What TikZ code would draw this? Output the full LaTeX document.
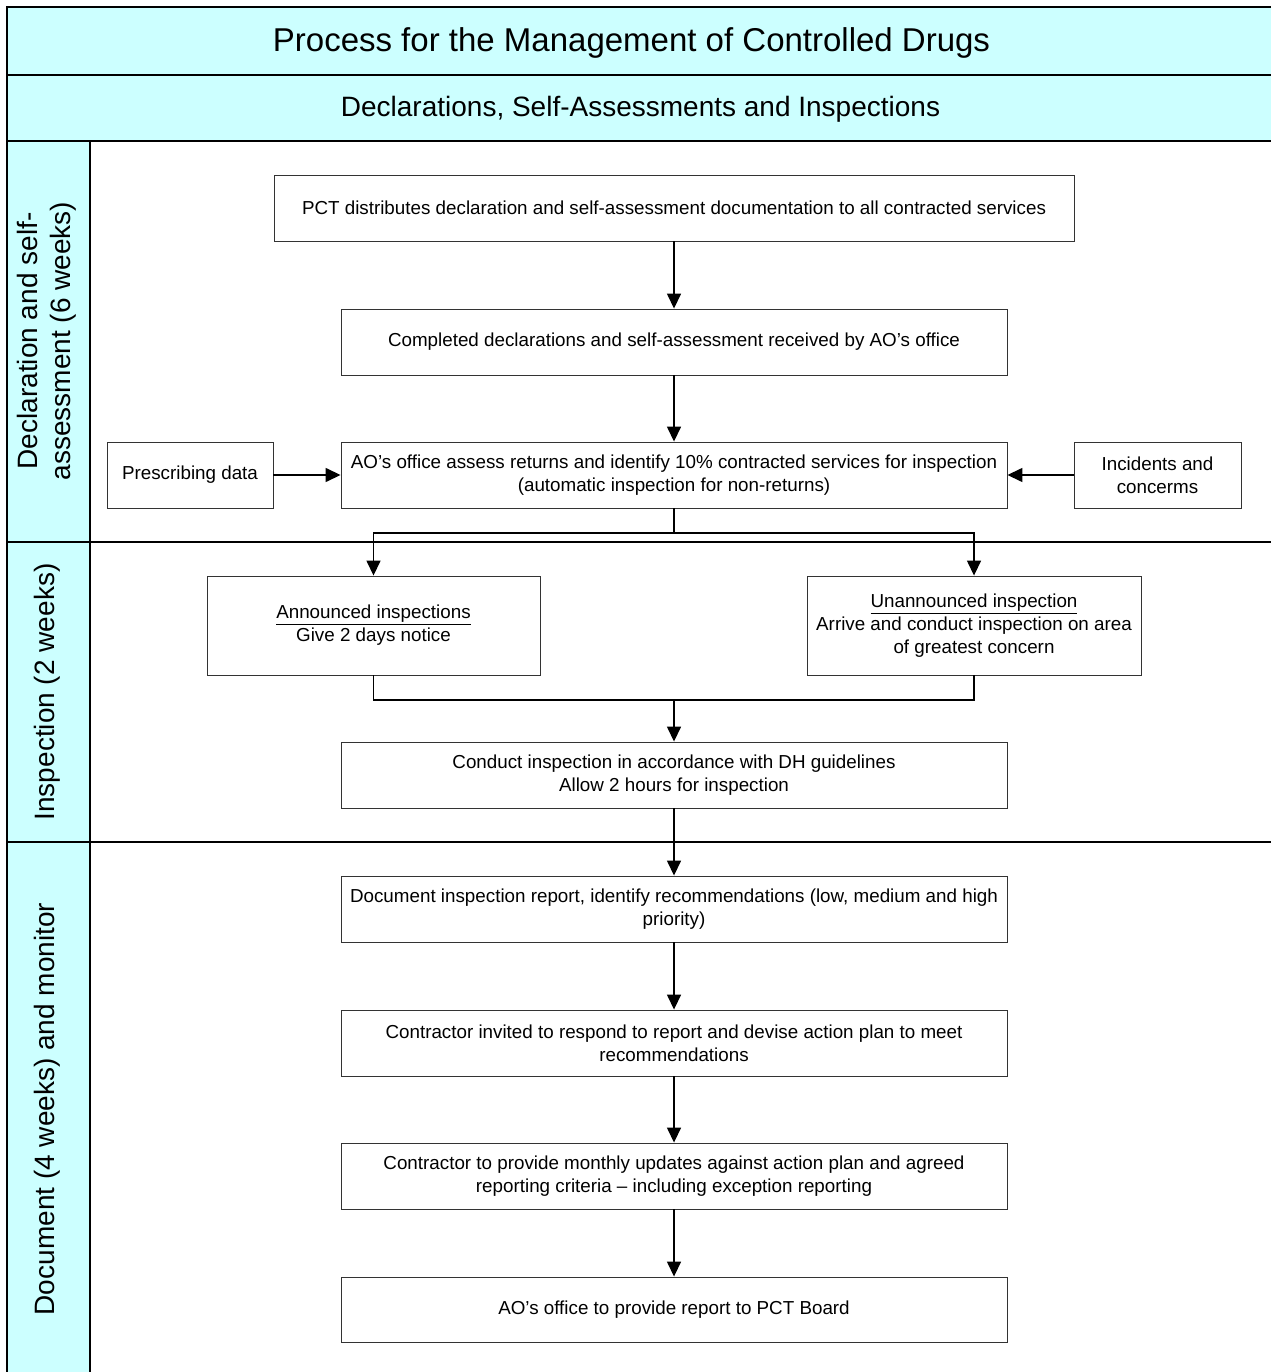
\documentclass[tikz,border=0pt]{standalone}
\usepackage{fontspec}
\setmainfont{Liberation Sans}
\usetikzlibrary{arrows.meta}
\definecolor{band}{HTML}{CCFFFF}
\tikzset{
  box/.style={draw=black!80, line width=0.9pt, fill=white, align=center, inner sep=0pt,
    font=\fontsize{18.8}{22.8}\selectfont},
  lane/.style={line width=1.5pt, draw=black},
  conn/.style={line width=1.5pt, draw=black},
  arr/.style={conn, -{Triangle[length=15pt,width=14pt]}},
  lanelabel/.style={rotate=90, align=center, font=\fontsize{28}{33}\selectfont, inner sep=0pt}
}
\begin{document}
\begin{tikzpicture}[x=1pt,y=-1pt]
\useasboundingbox (0,0) rectangle (1271,1372);
% bands
\fill[band] (7,7) rectangle (1271,141);
\fill[band] (7,141) rectangle (90,1372);
\draw[lane] (7,1372) -- (7,7) -- (1271,7);
\draw[lane] (7,75) -- (1271,75);
\draw[lane] (7,141) -- (1271,141);
\draw[lane] (7,542) -- (1271,542);
\draw[lane] (7,842) -- (1271,842);
\draw[lane] (90,141) -- (90,1372);
% headers
\node[inner sep=0pt, font=\fontsize{33}{38}\selectfont] (title) at (631.5,42.5) {Process for the Management of Controlled Drugs};
\node[inner sep=0pt, font=\fontsize{28}{33}\selectfont] (subtitle) at (640.5,109.5) {Declarations, Self-Assessments and Inspections};
% lane labels
\node[lanelabel] (l1) at (47,341) {Declaration and self-\\assessment (6 weeks)};
\node[lanelabel] (l2) at (47,692) {Inspection (2 weeks)};
\node[lanelabel] (l3) at (47,1109) {Document (4 weeks) and monitor};
% boxes
\node[box, minimum width=800pt, minimum height=66pt] (pct) at (674,208) {PCT distributes declaration and self-assessment documentation to all contracted services};
\node[box, minimum width=666pt, minimum height=66pt] (compl) at (674,342) {Completed declarations and self-assessment received by AO’s office};
\node[box, minimum width=666pt, minimum height=66pt] (assess) at (674,475) {AO’s office assess returns and identify 10\% contracted services for inspection\\(automatic inspection for non-returns)};
\node[box, minimum width=166pt, minimum height=66pt] (presc) at (190,475) {Prescribing data};
\node[box, minimum width=167pt, minimum height=66pt] (incid) at (1157.5,475) {Incidents and\\concerms};
\node[box, minimum width=333pt, minimum height=99pt] (ann) at (373.5,625.5) {\underline{Announced inspections}\\Give 2 days notice};
\node[box, minimum width=334pt, minimum height=99pt] (unann) at (974,625.5) {\underline{Unannounced inspection}\\Arrive and conduct inspection on area\\of greatest concern};
\node[box, minimum width=666pt, minimum height=66pt] (conduct) at (674,775) {Conduct inspection in accordance with DH guidelines\\Allow 2 hours for inspection};
\node[box, minimum width=666pt, minimum height=66pt] (doc) at (674,909) {Document inspection report, identify recommendations (low, medium and high\\priority)};
\node[box, minimum width=666pt, minimum height=66pt] (invited) at (674,1043) {Contractor invited to respond to report and devise action plan to meet\\recommendations};
\node[box, minimum width=666pt, minimum height=66pt] (updates) at (674,1176) {Contractor to provide monthly updates against action plan and agreed\\reporting criteria – including exception reporting};
\node[box, minimum width=666pt, minimum height=65pt] (report) at (674,1309.5) {AO’s office to provide report to PCT Board};
% connectors
\draw[arr] (pct) -- (compl);
\draw[arr] (compl) -- (assess);
\draw[arr] (presc) -- (assess);
\draw[arr] (incid) -- (assess);
\coordinate (split) at (674,533);
\coordinate (merge) at (674,700);
\draw[conn] (assess.south) -- (split);
\draw[arr] (split) -| (ann.north);
\draw[arr] (split) -| (unann.north);
\draw[conn] (ann.south) |- (merge) -| (unann.south);
\draw[arr] (merge) -- (conduct.north);
\draw[arr] (conduct) -- (doc);
\draw[arr] (doc) -- (invited);
\draw[arr] (invited) -- (updates);
\draw[arr] (updates) -- (report);
\end{tikzpicture}
\end{document}
